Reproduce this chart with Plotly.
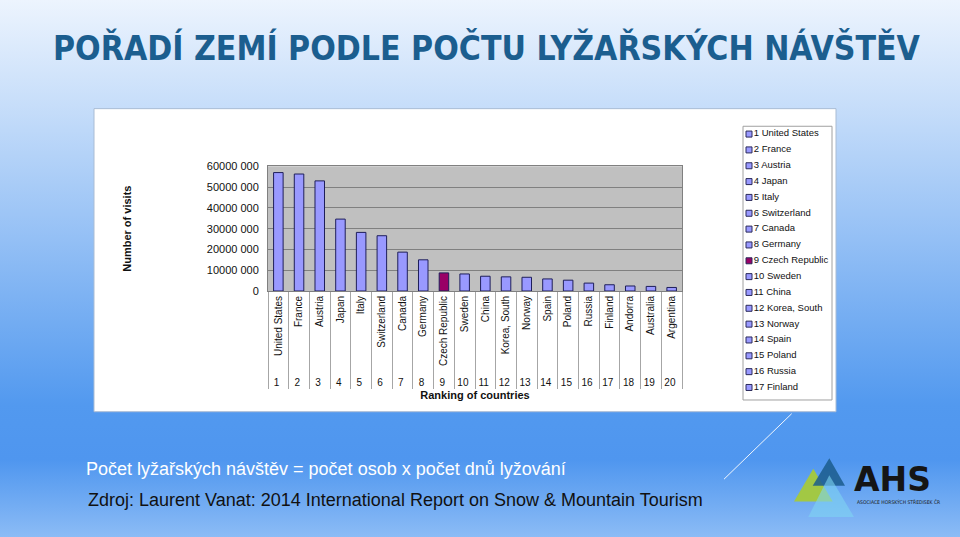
import base64
import plotly.graph_objects as go

# ---------------- data ----------------
ranks = [str(i) for i in range(1, 21)]
countries = ["United States", "France", "Austria", "Japan", "Italy", "Switzerland",
             "Canada", "Germany", "Czech Republic", "Sweden", "China", "Korea, South",
             "Norway", "Spain", "Poland", "Russia", "Finland", "Andorra", "Australia",
             "Argentina"]
visits = [57_000_000, 56_300_000, 53_000_000, 34_600_000, 28_200_000, 26_600_000,
          18_700_000, 15_000_000, 8_700_000, 8_200_000, 7_100_000, 6_800_000,
          6_600_000, 5_800_000, 5_200_000, 3_800_000, 3_000_000, 2_400_000,
          2_200_000, 1_700_000]
highlight = "Czech Republic"
y_tick_values = [0, 10_000_000, 20_000_000, 30_000_000, 40_000_000, 50_000_000, 60_000_000]
y_tick_labels = ["0", "10000 000", "20000 000", "30000 000", "40000 000", "50000 000", "60000 000"]
legend_count = 17  # entries visible in the legend box

title_text = "POŘADÍ ZEMÍ PODLE POČTU LYŽAŘSKÝCH NÁVŠTĚV"
note_text = "Počet lyžařských návštěv = počet osob x počet dnů lyžování"
source_text = "Zdroj: Laurent Vanat: 2014 International Report on Snow &amp; Mountain Tourism"

# ---------------- helpers ----------------
W, H = 960, 537
def px(x):
    return x / W
def py(y):
    return 1 - y / H

BAR = "#9999FF"
HI = "#990066"
EDGE = "#1E1E5A"
colors = [HI if c == highlight else BAR for c in countries]
FONT = "Arial, Liberation Sans, sans-serif"

fig = go.Figure()

fig.add_trace(go.Bar(
    x=[ranks, countries], y=visits,
    marker=dict(color=colors, line=dict(color=EDGE, width=1)),
    width=0.46, showlegend=False, xaxis="x", yaxis="y",
))

# legend drawn as a small marker chart
fig.add_trace(go.Scatter(
    x=[0] * legend_count, y=list(range(1, legend_count + 1)),
    mode="markers+text",
    text=[f"{r} {c}" for r, c in zip(ranks[:legend_count], countries[:legend_count])],
    textposition="middle right",
    textfont=dict(family=FONT, size=9.5, color="#111111"),
    marker=dict(symbol="square", size=6, color=colors[:legend_count],
                line=dict(color="#2B2B5B", width=1)),
    showlegend=False, hoverinfo="skip", cliponaxis=False,
    xaxis="x2", yaxis="y2",
))

# ---------------- background gradient ----------------
stops = [(0.0, "#EEF5FE"), (0.19, "#C9DFFA"), (0.45, "#93BFF5"), (0.75, "#5299EF"),
         (0.85, "#4F96EF"), (1.0, "#8FBEF6")]
stop_xml = "".join(f'<stop offset="{o}" stop-color="{c}"/>' for o, c in stops)
svg = (f'<svg xmlns="http://www.w3.org/2000/svg" width="{W}" height="{H}" viewBox="0 0 {W} {H}" preserveAspectRatio="none">'
       f'<defs><linearGradient id="g" x1="0" y1="0" x2="0" y2="1">{stop_xml}</linearGradient></defs>'
       f'<rect width="{W}" height="{H}" fill="url(#g)"/></svg>')
uri = "data:image/svg+xml;base64," + base64.b64encode(svg.encode()).decode()

shapes = [
    # white chart box
    dict(type="rect", xref="paper", yref="paper", x0=px(94), x1=px(836), y0=py(415), y1=py(105),
         fillcolor="white", line=dict(color="#A9BCD4", width=1), layer="below"),
    # plot area
    dict(type="rect", xref="paper", yref="paper", x0=px(268), x1=px(682), y0=py(291.5), y1=py(164),
         fillcolor="#C0C0C0", line=dict(width=0), layer="below"),
    # legend box
    dict(type="rect", xref="paper", yref="paper", x0=px(743), x1=px(832), y0=py(403), y1=py(123),
         fillcolor="white", line=dict(color="#A0A0A0", width=1), layer="below"),
    # decorative line
    dict(type="line", xref="paper", yref="paper", x0=px(791.7), y0=py(417), x1=px(724), y1=py(484),
         line=dict(color="rgba(255,255,255,0.9)", width=1)),
    # logo triangles
    dict(type="path", xref="paper", yref="paper",
         path=f"M{px(813.3)},{py(473.3)} L{px(794)},{py(506.7)} L{px(832.7)},{py(506.7)} Z",
         fillcolor="#A5C93A", line=dict(width=0), opacity=0.95),
    dict(type="path", xref="paper", yref="paper",
         path=f"M{px(829.3)},{py(462.7)} L{px(812.7)},{py(490.7)} L{px(845)},{py(490.7)} Z",
         fillcolor="#1B5C8C", line=dict(width=0), opacity=0.85),
    dict(type="path", xref="paper", yref="paper",
         path=f"M{px(829.3)},{py(480)} L{px(808.3)},{py(522.7)} L{px(854)},{py(522.7)} Z",
         fillcolor="#7FD3F2", line=dict(width=0), opacity=0.6),
]

annotations = [
    dict(text=title_text, xref="paper", yref="paper", x=px(487), y=py(43),
         xanchor="center", yanchor="middle", showarrow=False,
         font=dict(family="Liberation Sans Narrow, DejaVu Sans Condensed, sans-serif",
                   size=33.5, color="#1B5E8F", weight="bold")),
    dict(text=note_text, xref="paper", yref="paper", x=px(84), y=py(474),
         xanchor="left", yanchor="middle", showarrow=False,
         font=dict(family=FONT, size=18, color="white")),
    dict(text=source_text, xref="paper", yref="paper", x=px(86), y=py(505),
         xanchor="left", yanchor="middle", showarrow=False,
         font=dict(family=FONT, size=18, color="#111111")),
    dict(text="AHS", xref="paper", yref="paper", x=px(852), y=py(484),
         xanchor="left", yanchor="middle", showarrow=False,
         font=dict(family="DejaVu Sans, sans-serif", size=33, color="#151515", weight="bold")),
    dict(text="ASOCIACE HORSKÝCH STŘEDISEK ČR", xref="paper", yref="paper", x=px(855), y=py(507),
         xanchor="left", yanchor="middle", showarrow=False,
         font=dict(family="DejaVu Sans Condensed, sans-serif", size=5, color="#1A1A1A")),
]

leg_top, leg_bot, leg_step, first_item = 123, 403, 16.2, 131
y2_top = 1 - (first_item - leg_top) / leg_step
y2_bot = y2_top + (leg_bot - leg_top) / leg_step

fig.update_layout(
    width=W, height=H,
    margin=dict(l=0, r=0, t=0, b=0),
    paper_bgcolor="#EEF5FE",
    plot_bgcolor="rgba(0,0,0,0)",
    font=dict(family=FONT, size=11, color="#111111"),
    images=[dict(source=uri, xref="paper", yref="paper", x=-0.01, y=1.02, sizex=1.02, sizey=1.04,
                 xanchor="left", yanchor="top", sizing="stretch", layer="below")],
    shapes=shapes,
    annotations=annotations,
    xaxis=dict(
        domain=[px(268), px(682)], anchor="y", type="multicategory",
        tickangle=-90, tickfont=dict(size=10, color="#111111"),
        showdividers=True, dividercolor="#A6A6A6", dividerwidth=1,
        showline=True, linecolor="#808080", linewidth=1, mirror=True,
        showgrid=False,
        title=dict(text="Ranking of countries", font=dict(size=11, weight="bold", color="#111111"),
                   standoff=3),
    ),
    yaxis=dict(
        domain=[py(291.5), py(164)], anchor="x",
        range=[0, 60_000_000], tickvals=y_tick_values, ticktext=y_tick_labels,
        tickfont=dict(size=11, color="#111111"),
        showline=True, linecolor="#808080", linewidth=1, mirror=True,
        showgrid=True, gridcolor="#808080", gridwidth=1, zeroline=False,
        ticks="", ticklabelstandoff=6,
        title=dict(text="Number of visits", font=dict(size=11, weight="bold", color="#111111"),
                   standoff=72),
    ),
    xaxis2=dict(domain=[px(746), px(832)], anchor="y2", range=[-3, 83], visible=False,
                fixedrange=True),
    yaxis2=dict(domain=[py(leg_bot), py(leg_top)], anchor="x2", range=[y2_bot, y2_top],
                visible=False, fixedrange=True),
)

fig.write_html("out.html")
